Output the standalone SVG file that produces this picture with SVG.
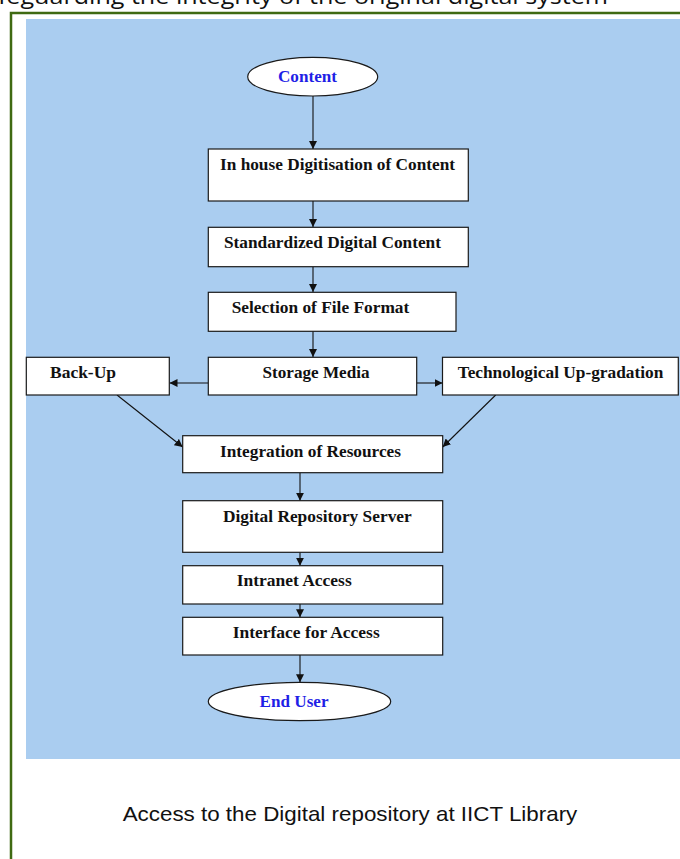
<svg xmlns="http://www.w3.org/2000/svg" width="680" height="859" viewBox="0 0 680 859">
<defs>
<style>
.box{fill:#ffffff;stroke:#1a1a1a;stroke-width:1.2}
.lbl{font-family:"Liberation Serif","Times New Roman",serif;font-weight:bold;font-size:16.5px;fill:#111111}
.blu{font-family:"Liberation Serif","Times New Roman",serif;font-weight:bold;font-size:16.5px;fill:#1f1fe6}
.con line{stroke:#111111;stroke-width:1.1;marker-end:url(#ah)}
</style>
<marker id="ah" markerUnits="userSpaceOnUse" markerWidth="8" markerHeight="8" refX="8" refY="4" orient="auto">
<path d="M0,0 L8,4 L0,8 z" fill="#111111"/>
</marker>
</defs>
<rect x="0" y="0" width="680" height="859" fill="#ffffff"/>
<text x="-28" y="4" font-family="'Open Sans','Noto Sans',sans-serif" font-size="21" fill="#111111" textLength="636" lengthAdjust="spacingAndGlyphs">safeguarding the integrity of the original digital system</text>
<path d="M11,859 V13 H680" fill="none" stroke="#3f6a12" stroke-width="2.5"/>
<rect x="26" y="19" width="654" height="740" fill="#aacdf0"/>

<g class="con">
<line x1="313" y1="96" x2="313" y2="149"/>
<line x1="313" y1="188" x2="313" y2="227"/>
<line x1="313" y1="267" x2="313" y2="292"/>
<line x1="313" y1="331" x2="313" y2="357"/>
<line x1="208" y1="383" x2="169.5" y2="383"/>
<line x1="416.7" y1="383" x2="442.5" y2="383"/>
<line x1="117" y1="395" x2="182.7" y2="447"/>
<line x1="495.7" y1="395" x2="442.7" y2="447"/>
<line x1="300" y1="473" x2="300" y2="500.7"/>
<line x1="300" y1="539" x2="300" y2="565.7"/>
<line x1="300" y1="604" x2="300" y2="617.3"/>
<line x1="300" y1="655" x2="300" y2="682.3"/>
</g>

<g id="content">
<ellipse cx="312.7" cy="76.7" rx="65" ry="19.3" class="box"/>
<text x="307.5" y="82.3" text-anchor="middle" class="blu" textLength="59" lengthAdjust="spacingAndGlyphs">Content</text>
</g>
<g id="digitisation">
<rect x="208.3" y="149" width="260" height="52" class="box"/>
<text x="220" y="170" class="lbl" textLength="235" lengthAdjust="spacingAndGlyphs">In house Digitisation  of Content</text>
</g>
<g id="standardized">
<rect x="208.3" y="227.3" width="260" height="39.4" class="box"/>
<text x="224" y="248.3" class="lbl" textLength="217" lengthAdjust="spacingAndGlyphs">Standardized Digital Content</text>
</g>
<g id="fileformat">
<rect x="208.3" y="292.3" width="247.7" height="39" class="box"/>
<text x="231.7" y="313.3" class="lbl" textLength="177.6" lengthAdjust="spacingAndGlyphs">Selection  of File Format</text>
</g>
<g id="storage">
<rect x="208.3" y="357.3" width="208.4" height="37.7" class="box"/>
<text x="262.5" y="378.3" class="lbl" textLength="107" lengthAdjust="spacingAndGlyphs">Storage Media</text>
</g>
<g id="backup">
<rect x="26.3" y="357.3" width="143" height="37.7" class="box"/>
<text x="50" y="378.3" class="lbl" textLength="66" lengthAdjust="spacingAndGlyphs">Back-Up</text>
</g>
<g id="techupgrade">
<rect x="442.5" y="357.3" width="235.8" height="37.7" class="box"/>
<text x="457.7" y="378.3" class="lbl" textLength="205.6" lengthAdjust="spacingAndGlyphs">Technological Up-gradation</text>
</g>
<g id="integration">
<rect x="182.7" y="435.7" width="260" height="37" class="box"/>
<text x="220" y="456.7" class="lbl" textLength="181" lengthAdjust="spacingAndGlyphs">Integration of Resources</text>
</g>
<g id="repository">
<rect x="182.7" y="500.7" width="260" height="51.6" class="box"/>
<text x="223" y="521.7" class="lbl" textLength="188.7" lengthAdjust="spacingAndGlyphs">Digital Repository Server</text>
</g>
<g id="intranet">
<rect x="182.7" y="565.7" width="260" height="38.3" class="box"/>
<text x="236.7" y="586.3" class="lbl" textLength="115" lengthAdjust="spacingAndGlyphs">Intranet Access</text>
</g>
<g id="interface">
<rect x="182.7" y="617.3" width="260" height="37.7" class="box"/>
<text x="232.7" y="638.3" class="lbl" textLength="147" lengthAdjust="spacingAndGlyphs">Interface for Access</text>
</g>
<g id="enduser">
<ellipse cx="299.5" cy="701.5" rx="91.2" ry="19.2" class="box"/>
<text x="294" y="706.7" text-anchor="middle" class="blu" textLength="69" lengthAdjust="spacingAndGlyphs">End User</text>
</g>

<text x="122.7" y="821" font-family="'Liberation Sans',Arial,sans-serif" font-size="21" fill="#111111" textLength="454.6" lengthAdjust="spacingAndGlyphs">Access to the Digital repository at IICT Library</text>
</svg>
